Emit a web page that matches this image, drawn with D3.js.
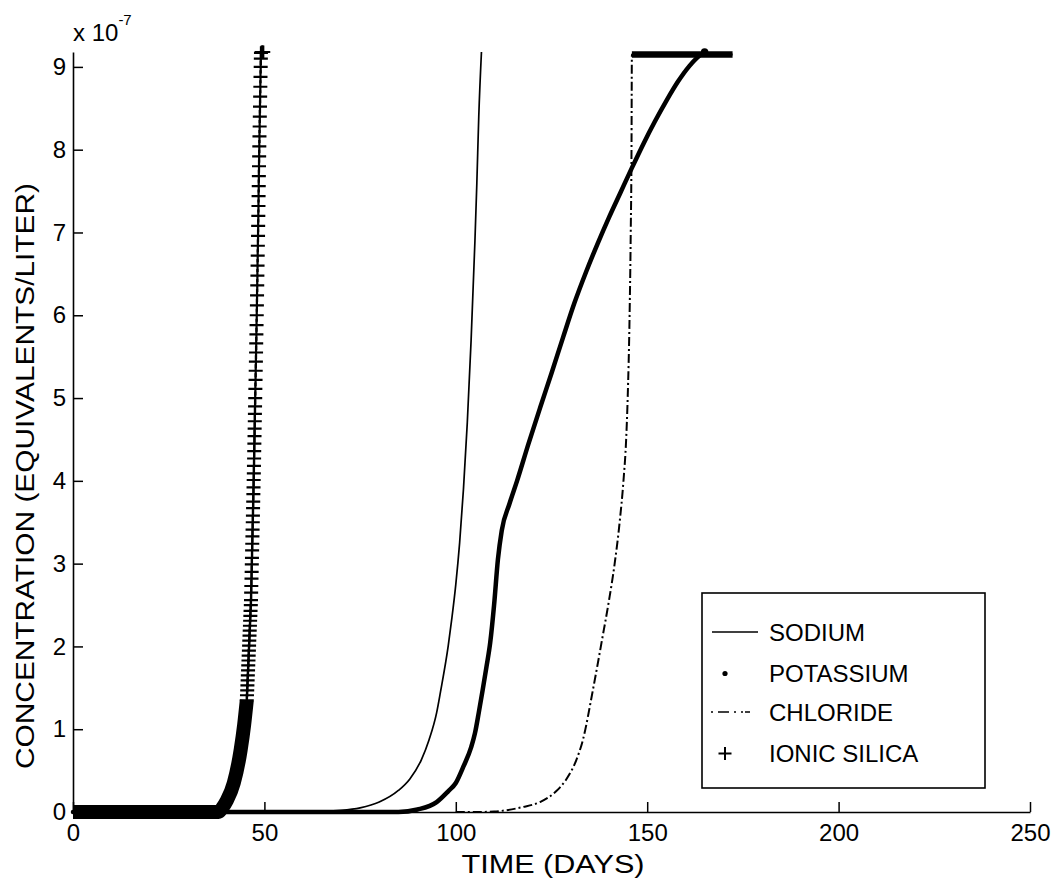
<!DOCTYPE html>
<html>
<head>
<meta charset="utf-8">
<script src="https://cdn.jsdelivr.net/npm/d3@7"></script>
<style>
  body { margin: 0; background: #fff; }
  text { font-family: "Liberation Sans", Arial, Helvetica, sans-serif; fill: #000; }
</style>
</head>
<body>
<div id="chart-area"></div>
<script>

// data (concentration in units of 1e-7 eq/L, time in days)
let timeTicks = [0, 50, 100, 150, 200, 250];
let concTicks = [0, 1, 2, 3, 4, 5, 6, 7, 8, 9];

let sodiumT = [0, 60, 70, 75, 80, 85, 88, 91, 93, 95, 96, 98, 99, 100, 101, 102, 103, 104, 105, 105.5, 106, 106.7];
let sodiumC = [0, 0, 0.02, 0.05, 0.12, 0.26, 0.4, 0.63, 0.87, 1.2, 1.45, 2.0, 2.35, 2.75, 3.25, 3.9, 4.7, 5.7, 6.9, 7.6, 8.4, 9.18];

let potassiumT = [0, 85, 90, 95, 98, 100, 102, 104, 105, 106, 107, 108, 109, 110, 111, 112, 114, 116, 119, 122, 125, 128, 131, 134, 137, 140, 143, 146, 149, 152, 155, 158, 161, 163, 165];
let potassiumC = [0, 0, 0.03, 0.12, 0.25, 0.35, 0.55, 0.78, 0.95, 1.2, 1.47, 1.75, 2.05, 2.5, 3.05, 3.4, 3.72, 4.0, 4.45, 4.88, 5.3, 5.73, 6.15, 6.52, 6.86, 7.18, 7.48, 7.78, 8.07, 8.34, 8.59, 8.82, 9.01, 9.11, 9.18];

let chlorideT = [100, 105, 110, 113, 117.5, 122, 126.2, 128.8, 131.5, 133.2, 135.8, 138.2, 140, 141.5, 142.8, 143.8, 144.5, 144.9, 145.4, 145.7, 145.9, 146.0, 172.3];
let chlorideC = [0, 0, 0.005, 0.02, 0.06, 0.12, 0.25, 0.39, 0.63, 0.87, 1.47, 2.08, 2.55, 3.0, 3.5, 4.0, 4.5, 5.0, 6.0, 7.0, 8.0, 9.15, 9.15];

// ionic silica: part where the markers merge into a solid band
let silicaBandT = [0, 38, 39, 40.2, 42, 43.8, 44.7, 45.4];
let silicaBandC = [0, 0, 0.05, 0.14, 0.35, 0.75, 1.05, 1.35];

// ionic silica: markers that can still be told apart
let silicaT = [45.40, 45.45, 45.51, 45.56, 45.62, 45.67, 45.73, 45.78, 45.84, 45.89, 45.95, 46.00, 46.05, 46.11, 46.16, 46.22, 46.27, 46.33, 46.38, 46.45,
  46.50, 46.54, 46.58, 46.63, 46.67, 46.71, 46.75, 46.79, 46.83, 46.87, 46.91, 46.96, 47.00, 47.04, 47.08, 47.12, 47.16, 47.20, 47.24, 47.27, 47.31, 47.34, 47.38, 47.42, 47.45, 47.49, 47.52, 47.56,
  47.60, 47.64, 47.69, 47.73, 47.78, 47.82, 47.86, 47.91, 47.95, 48.00, 48.04, 48.08, 48.13, 48.17, 48.21, 48.25, 48.29, 48.34, 48.37, 48.41, 48.45, 48.48, 48.52, 48.55, 48.59, 48.63, 48.67, 48.71, 48.76, 48.80, 48.85, 48.89, 48.94, 48.98, 49.03, 49.07, 49.10,
  49.30, 49.50, 49.70];
let silicaC = [1.35, 1.41, 1.47, 1.53, 1.59, 1.65, 1.71, 1.77, 1.83, 1.89, 1.95, 2.01, 2.07, 2.13, 2.19, 2.25, 2.31, 2.37, 2.43, 2.50,
  2.56, 2.65, 2.73, 2.82, 2.90, 2.99, 3.07, 3.16, 3.24, 3.33, 3.41, 3.50, 3.58, 3.67, 3.75, 3.84, 3.92, 4.01, 4.09, 4.18, 4.27, 4.36, 4.45, 4.54, 4.63, 4.72, 4.81, 4.90,
  5.00, 5.11, 5.22, 5.33, 5.44, 5.55, 5.66, 5.77, 5.88, 6.00, 6.12, 6.24, 6.36, 6.48, 6.60, 6.72, 6.84, 6.96, 7.08, 7.20, 7.32, 7.44, 7.56, 7.68, 7.80, 7.92, 8.04, 8.16, 8.28, 8.40, 8.52, 8.64, 8.76, 8.88, 9.00, 9.10, 9.17,
  9.18, 9.18, 9.18];

let legendNames = ["SODIUM", "POTASSIUM", "CHLORIDE", "IONIC SILICA"];

let width = 1056,
    height = 889;

let svg = d3.select("#chart-area").append("svg")
    .attr("width", width)
    .attr("height", height);

let x = d3.scaleLinear().domain([0, 250]).range([73, 1030]);
let y = d3.scaleLinear().domain([0, 9.18]).range([812, 52]);

let zip = (ts, cs) => ts.map((t, i) => [t, cs[i]]);

let line = d3.line()
  .x(d => x(d[0]))
  .y(d => y(d[1]))
  .curve(d3.curveMonotoneX);

// axes (ticks point inward, like matlab)
let xAxis = svg.append("g")
  .attr("transform", "translate(0,812)")
  .call(d3.axisBottom(x).tickValues(timeTicks).tickSizeInner(-10).tickSizeOuter(0).tickPadding(12))
xAxis.select(".domain").attr("stroke-width", 1.6)
xAxis.selectAll(".tick line").attr("stroke-width", 1.5)

let yAxis = svg.append("g")
  .attr("transform", "translate(73,0)")
  .call(d3.axisLeft(y).tickValues(concTicks).tickSizeInner(-10).tickSizeOuter(0).tickPadding(7))
yAxis.select(".domain").attr("stroke-width", 1.6)
yAxis.selectAll(".tick line").attr("stroke-width", 1.5)

svg.selectAll(".tick text")
  .attr("font-family", "'Liberation Sans', Arial, sans-serif")
  .attr("font-size", 24)
  .attr("fill", "#000")

// exponent label
let expo = svg.append("text")
  .attr("x", 73).attr("y", 41)
  .attr("font-size", 24)
expo.append("tspan").text("x 10")
expo.append("tspan").attr("dy", -16).attr("font-size", 15).text("-7")

// axis titles (the scanned lettering is wider than the font, so stretch it)
svg.append("text")
  .attr("x", 553).attr("y", 873)
  .attr("text-anchor", "middle")
  .attr("font-size", 25)
  .attr("textLength", 183)
  .attr("lengthAdjust", "spacingAndGlyphs")
  .text("TIME (DAYS)")

svg.append("text")
  .attr("transform", "translate(34,476) rotate(-90)")
  .attr("text-anchor", "middle")
  .attr("font-size", 25)
  .attr("textLength", 586)
  .attr("lengthAdjust", "spacingAndGlyphs")
  .text("CONCENTRATION (EQUIVALENTS/LITER)")

// sodium: thin solid
svg.append("path")
  .datum(zip(sodiumT, sodiumC))
  .attr("d", line)
  .attr("fill", "none")
  .attr("stroke", "#000")
  .attr("stroke-width", 1.7)

// chloride: dash-dot, with the heavy plateau on top
let chloride = zip(chlorideT, chlorideC);
svg.append("path")
  .datum(chloride)
  .attr("d", line)
  .attr("fill", "none")
  .attr("stroke", "#000")
  .attr("stroke-width", 2)
  .attr("stroke-dasharray", "9,3,2,3")

let chlMax = d3.max(chlorideC);
svg.append("path")
  .datum(chloride.filter(d => d[1] >= chlMax))
  .attr("d", line)
  .attr("fill", "none")
  .attr("stroke", "#000")
  .attr("stroke-width", 6.5)

// potassium: dense dots -> heavy line
let potassium = zip(potassiumT, potassiumC);
svg.append("path")
  .datum(potassium)
  .attr("d", line)
  .attr("fill", "none")
  .attr("stroke", "#000")
  .attr("stroke-width", 4.5)
  .attr("stroke-linecap", "round")

let last = potassium[potassium.length - 1];
svg.append("circle")
  .attr("cx", x(last[0])).attr("cy", y(last[1]))
  .attr("r", 3.8)

// ionic silica: solid band where the markers overlap, then separate plus signs
svg.append("path")
  .datum(zip(silicaBandT, silicaBandC))
  .attr("d", line)
  .attr("fill", "none")
  .attr("stroke", "#000")
  .attr("stroke-width", 14)

svg.selectAll(".silica")
  .data(zip(silicaT, silicaC))
  .enter().append("path")
  .attr("class", "silica")
  .attr("d", "M-7,0H7M0,-6.5V6.5")
  .attr("transform", d => "translate(" + x(d[0]) + "," + y(d[1]) + ")")
  .attr("stroke", "#000")
  .attr("stroke-width", 2.2)

// legend
let lg = svg.append("g")
lg.append("rect")
  .attr("x", 702).attr("y", 593)
  .attr("width", 283).attr("height", 195)
  .attr("fill", "#fff")
  .attr("stroke", "#000")
  .attr("stroke-width", 1.6)

let rowY = [632, 673.5, 712, 753.5];

lg.selectAll(".lgtext")
  .data(legendNames)
  .enter().append("text")
  .attr("class", "lgtext")
  .attr("x", 769)
  .attr("y", (d, i) => rowY[i] + 8.5)
  .attr("font-size", 24)
  .text(d => d)

lg.append("line")
  .attr("x1", 712).attr("x2", 758).attr("y1", rowY[0]).attr("y2", rowY[0])
  .attr("stroke", "#000").attr("stroke-width", 1.7)
lg.append("circle")
  .attr("cx", 725).attr("cy", rowY[1]).attr("r", 2.6)
lg.append("line")
  .attr("x1", 711).attr("x2", 759).attr("y1", rowY[2]).attr("y2", rowY[2])
  .attr("stroke", "#000").attr("stroke-width", 1.7)
  .attr("stroke-dasharray", "2,5,11,5,2,5,2")
lg.append("path")
  .attr("d", "M-6.5,0H6.5M0,-6.5V6.5")
  .attr("transform", "translate(725," + rowY[3] + ")")
  .attr("stroke", "#000").attr("stroke-width", 2)

</script>
</body>
</html>
